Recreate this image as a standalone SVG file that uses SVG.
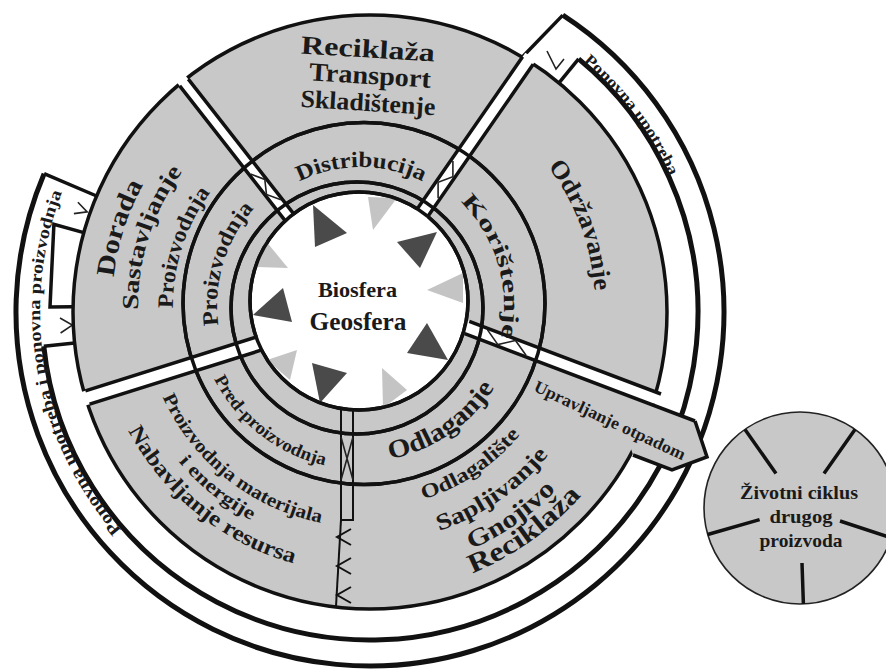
<svg xmlns="http://www.w3.org/2000/svg" width="886" height="669" viewBox="0 0 886 669">
<defs>
<style>
.g{fill:#c8c8c8;stroke:#111;stroke-width:3.5}
.ln{fill:none;stroke:#111;stroke-width:3.5;stroke-linejoin:miter}
.band{fill:none;stroke:#111;stroke-width:5}
.thin{fill:none;stroke:#222;stroke-width:1.6}
.sep{fill:none;stroke:#111;stroke-width:2}
.gap{fill:#fff;stroke:none}
.t{font-family:"Liberation Serif","Times New Roman",serif;font-weight:bold;fill:#1a1a1a}
.dk{fill:#4a4a4a}
.lt{fill:#c4c4c4}
</style>
<path id="p1" d="M223,305 A138,138 0 0 1 499,305"/>
<path id="p2" d="M319.3,164.1 A147,147 0 0 1 402.7,445.9"/>
<path id="p3" d="M318.3,444.6 A146,146 0 0 1 403.7,165.4"/>
<path id="p4" d="M230.2,202.8 A166,166 0 0 0 491.8,407.2"/>
<path id="p5" d="M230.8,394.5 A158,158 0 0 0 491.2,215.5"/>
<path id="p6" d="M287.4,546.1 A252,252 0 0 1 440.6,65.9"/>
<path id="p7" d="M294.9,521.2 A226,226 0 0 1 433.1,90.8"/>
<path id="p8" d="M305.3,487.8 A191,191 0 0 1 422.7,124.2"/>
<path id="p9" d="M283.1,89.6 A231,231 0 0 1 444.9,522.4"/>
<path id="p10" d="M191,168.4 A221,221 0 0 0 537,443.6"/>
<path id="p11" d="M174.1,152.8 A244,244 0 0 0 553.9,459.2"/>
<path id="p12" d="M153.3,137.2 A270,270 0 0 0 574.7,474.8"/>
<path id="p13" d="M194.5,419.5 A204,204 0 0 0 533.5,192.5"/>
<path id="p14" d="M169.4,441.3 A237,237 0 0 0 558.6,170.7"/>
<path id="p15" d="M146.1,458.6 A266,266 0 0 0 581.9,153.4"/>
<path id="p16" d="M124.7,476.7 A294,294 0 0 0 603.3,135.3"/>
<path id="p17" d="M169,45.3 A334,334 0 0 1 571,578.7"/>
<path id="p18" d="M428,640.9 A334,334 0 0 1 312,-16.9"/>
</defs>
<rect width="886" height="669" fill="#fff"/>

<g id="connectors">
<g id="loop-band">
<path class="band" d="M562.8,15.1 A354,354 0 1 1 44.1,173.7"/>
<path class="band" d="M578.6,58.9 A328,328 0 1 1 43.8,346.3"/>
<path class="ln" stroke-width="4.5" d="M522.6,56.8 L562.8,15.1"/>
<path class="ln" stroke-width="4.5" d="M559,82.8 L578.6,58.9"/>
<path class="ln" stroke-width="4.5" d="M44.1,173.7 L96.6,196"/>
<path class="ln" stroke-width="4.5" d="M83.8,232.6 L53.9,224.3 L50,307 L73,306.8"/>
<path class="ln" stroke-width="4.5" d="M43.8,346.3 L74.6,343"/>
<path class="thin" d="M547,51 L556,69 L564,59"/>
<path class="thin" d="M77.9,202.2 L87.2,211.9 L73.9,213.6"/>
<path class="thin" d="M60,318 L72.3,325.1 L60.6,333"/>
</g>
</g>

<g id="rings">
<circle class="g" cx="370" cy="312" r="297"/>
<g id="arrow-upravljanje">
<polygon points="642.4,400.9 695,421 707,457 672,470 633,455 625,430" fill="#c8c8c8"/>
<path class="ln" d="M695,421 L707,457 L672,470 L633,455"/>
</g>
<circle class="g" cx="364" cy="303.5" r="181"/>
<circle class="g" cx="357" cy="308" r="126"/>
<circle cx="359" cy="301" r="109" fill="#fff" stroke="#111" stroke-width="3.5"/>
</g>

<g id="triangles">
<polygon class="dk" points="313,205 347,233 315,247"/>
<polygon class="dk" points="397,242 437,232 420,268"/>
<polygon class="dk" points="427,323 448,360 407,353"/>
<polygon class="dk" points="312,363 347,373 320,403"/>
<polygon class="dk" points="283,288 292,322 253,315"/>
<polygon class="lt" points="368,197 397,198 373,230"/>
<polygon class="lt" points="265,240 288,268 257,267"/>
<polygon class="lt" points="427,290 463,273 463,303"/>
<polygon class="lt" points="267,360 297,350 290,380"/>
<polygon class="lt" points="382,368 407,390 383,408"/>
</g>

<g id="separators">
<polygon class="gap" points="294.3,214.6 185.2,75.2 176.6,82 285.7,221.4"/>
<polygon class="gap" points="426.6,218.2 536,60.1 525.4,52.7 416,210.8"/>
<polygon class="gap" points="466.5,320.3 668,396.5 652,404.4 461.9,332.5"/>
<polygon class="gap" points="259.8,335.9 80.6,392.3 84.8,405.7 264,349.3"/>
<path class="ln" d="M294.3,214.6 L188.3,79.1 M285.7,221.4 L179.7,85.9"/>
<path class="ln" d="M428.3,215.7 L533.2,64.2 M417.7,208.3 L522.6,56.8"/>
<path class="ln" d="M469.3,321.4 L661,394 M464.7,333.6 L695,421"/>
<path class="ln" d="M256.9,336.8 L85.4,390.8 M261.1,350.2 L89.6,404.2"/>
<circle cx="364" cy="303.5" r="181" fill="none" stroke="#111" stroke-width="3.5"/>
<circle cx="357" cy="308" r="126" fill="none" stroke="#111" stroke-width="3.5"/>
<circle cx="359" cy="301" r="109" fill="none" stroke="#111" stroke-width="3.5"/>
<path class="thin" d="M280.9,199.7 L266.5,194.5 L264.8,179.4 L250.5,174"/>
<path class="thin" d="M438.1,198.2 L438.1,182.3 L452.9,176.8 L452.9,160.9"/>
<path class="thin" d="M487.5,329.9 L497.9,344.6 L515.5,340.5 L526,355.2"/>
<path class="sep" d="M341,409 V520 H353 V410"/>
<path class="thin" d="M341,437 L353,480 M353,437 L341,480"/>
<path class="sep" d="M341,520 L336,606"/>
<path class="sep" d="M351,529 L337,537 L351,545 M351,558 L337,566 L351,574 M351,587 L337,595 L351,603"/>
</g>

<g id="node-center">
<text class="t" x="357.5" y="297" font-size="22" text-anchor="middle" textLength="79" lengthAdjust="spacingAndGlyphs">Biosfera</text>
<text class="t" x="358" y="330" font-size="25" text-anchor="middle" textLength="97" lengthAdjust="spacingAndGlyphs">Geosfera</text>
</g>

<g id="node-distribucija"><text class="t" font-size="22" text-anchor="middle"><textPath href="#p1" startOffset="50%" textLength="128" lengthAdjust="spacingAndGlyphs">Distribucija</textPath></text></g>
<g id="node-koristenje"><text class="t" font-size="22" text-anchor="middle"><textPath href="#p2" startOffset="50%" textLength="148" lengthAdjust="spacingAndGlyphs">Korištenje</textPath></text></g>
<g id="node-proizvodnja"><text class="t" font-size="22" text-anchor="middle"><textPath href="#p3" startOffset="50%" textLength="126" lengthAdjust="spacingAndGlyphs">Proizvodnja</textPath></text></g>
<g id="node-predproizvodnja"><text class="t" font-size="18" text-anchor="middle"><textPath href="#p4" startOffset="50%" textLength="145" lengthAdjust="spacingAndGlyphs">Pred-proizvodnja</textPath></text></g>
<g id="node-odlaganje"><text class="t" font-size="26" text-anchor="middle"><textPath href="#p5" startOffset="50%" textLength="130" lengthAdjust="spacingAndGlyphs">Odlaganje</textPath></text></g>

<g id="node-dorada">
<text class="t" font-size="26" text-anchor="middle"><textPath href="#p6" startOffset="50%" textLength="98" lengthAdjust="spacingAndGlyphs">Dorada</textPath></text>
<text class="t" font-size="23" text-anchor="middle"><textPath href="#p7" startOffset="50%" textLength="148" lengthAdjust="spacingAndGlyphs">Sastavljanje</textPath></text>
<text class="t" font-size="22" text-anchor="middle"><textPath href="#p8" startOffset="50%" textLength="124" lengthAdjust="spacingAndGlyphs">Proizvodnja</textPath></text>
</g>

<g id="node-reciklaza-transport">
<text class="t" transform="translate(368,49) rotate(3.5)" y="8.5" font-size="26" text-anchor="middle" textLength="134" lengthAdjust="spacingAndGlyphs">Reciklaža</text>
<text class="t" transform="translate(370,76) rotate(3.5)" y="8" font-size="26" text-anchor="middle" textLength="122" lengthAdjust="spacingAndGlyphs">Transport</text>
<text class="t" transform="translate(368,103) rotate(3.5)" y="8" font-size="25" text-anchor="middle" textLength="135" lengthAdjust="spacingAndGlyphs">Skladištenje</text>
</g>

<g id="node-odrzavanje"><text class="t" font-size="25" text-anchor="middle"><textPath href="#p9" startOffset="50%" textLength="135" lengthAdjust="spacingAndGlyphs">Održavanje</textPath></text></g>

<g id="node-nabavljanje">
<text class="t" font-size="19" text-anchor="middle"><textPath href="#p10" startOffset="50%" textLength="210" lengthAdjust="spacingAndGlyphs">Proizvodnja materijala</textPath></text>
<text class="t" font-size="19" text-anchor="middle"><textPath href="#p11" startOffset="50%" textLength="94" lengthAdjust="spacingAndGlyphs">i energije</textPath></text>
<text class="t" font-size="22" text-anchor="middle"><textPath href="#p12" startOffset="50%" textLength="218" lengthAdjust="spacingAndGlyphs">Nabavljanje resursa</textPath></text>
</g>

<g id="node-odlagaliste">
<text class="t" font-size="20" text-anchor="middle"><textPath href="#p13" startOffset="50%" textLength="118" lengthAdjust="spacingAndGlyphs">Odlagalište</textPath></text>
<text class="t" font-size="23" text-anchor="middle"><textPath href="#p14" startOffset="50%" textLength="135" lengthAdjust="spacingAndGlyphs">Sapljivanje</textPath></text>
<text class="t" font-size="25" text-anchor="middle"><textPath href="#p15" startOffset="50%" textLength="104" lengthAdjust="spacingAndGlyphs">Gnojivo</textPath></text>
<text class="t" font-size="27" text-anchor="middle"><textPath href="#p16" startOffset="50%" textLength="135" lengthAdjust="spacingAndGlyphs">Reciklaža</textPath></text>
</g>

<g id="label-upravljanje">
<text class="t" transform="translate(610,420) rotate(25)" y="6" font-size="17" text-anchor="middle" textLength="165" lengthAdjust="spacingAndGlyphs">Upravljanje otpadom</text>
</g>

<g id="label-ponovna">
<text class="t" font-size="16" text-anchor="middle"><textPath href="#p17" startOffset="50%" textLength="145" lengthAdjust="spacingAndGlyphs">Ponovna upotreba</textPath></text>
<text class="t" font-size="17" text-anchor="middle"><textPath href="#p18" startOffset="50%" textLength="360" lengthAdjust="spacingAndGlyphs">Ponovna upotreba i ponovna proizvodnja</textPath></text>
</g>

<g id="node-drugi-proizvod">
<circle cx="800" cy="508" r="96" fill="#c8c8c8" stroke="#222" stroke-width="1.6"/>
<path fill="none" stroke="#111" stroke-width="3.5" d="M745,429.4 L776,473.6 M855,429.4 L824,473.6 M891,537.7 L840,521 M803.4,604 L802,563 M707.7,534.5 L759.6,519.6"/>
<text class="t" x="799" y="499" font-size="19" text-anchor="middle" textLength="118" lengthAdjust="spacingAndGlyphs">Životni ciklus</text>
<text class="t" x="801" y="523" font-size="19" text-anchor="middle" textLength="63" lengthAdjust="spacingAndGlyphs">drugog</text>
<text class="t" x="801" y="547" font-size="19" text-anchor="middle" textLength="83" lengthAdjust="spacingAndGlyphs">proizvoda</text>
</g>
</svg>
